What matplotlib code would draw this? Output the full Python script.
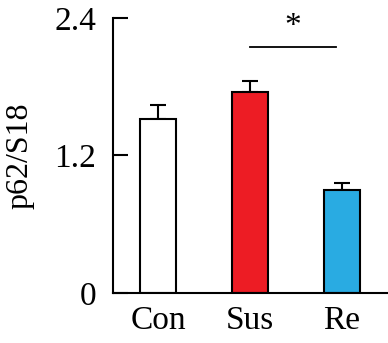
import numpy as np
import matplotlib
matplotlib.use('Agg')
import matplotlib.pyplot as plt

groups = ['Con', 'Sus', 'Re']
means = [1.52, 1.75, 0.90]
errors = [0.12, 0.10, 0.06]
colors = ['white', '#ED1C24', '#29ABE2']
yticks = [0, 1.2, 2.4]
ytick_labels = ['0', '1.2', '2.4']

plt.rcParams['font.family'] = ['Liberation Serif', 'DejaVu Serif']

fig = plt.figure(figsize=(3.88, 3.43), dpi=100)
ax = fig.add_axes([0.291, 0.146, 0.709, 0.8017])

x = np.arange(len(groups))
ax.bar(x, means, width=0.39, color=colors, edgecolor='black', linewidth=1.5, zorder=2)
ax.errorbar(x, means, yerr=[np.zeros(len(errors)), errors], fmt='none',
            ecolor='black', elinewidth=1.5, capsize=6, capthick=1.5, zorder=1)

# significance bar between Sus and Re
ax.plot([1.0, 1.94], [2.144, 2.144], color='black', lw=1.3, clip_on=False)
ax.text(1.47, 2.19, '*', ha='center', va='bottom', fontsize=24)

ax.set_xlim(-0.49, 2.5)
ax.set_ylim(0, 2.4)
ax.set_yticks(yticks)
ax.set_yticklabels(ytick_labels, fontsize=24)
ax.set_xticks(x)
ax.set_xticklabels(groups, fontsize=24)
ax.tick_params(axis='y', direction='in', length=11, width=1.5, pad=12)
ax.tick_params(axis='x', length=0, pad=9)
ax.set_ylabel('p62/S18', fontsize=23, labelpad=14)

for s in ['top', 'right']:
    ax.spines[s].set_visible(False)
for s in ['left', 'bottom']:
    ax.spines[s].set_linewidth(1.5)

fig.savefig('out.png', dpi=100)
